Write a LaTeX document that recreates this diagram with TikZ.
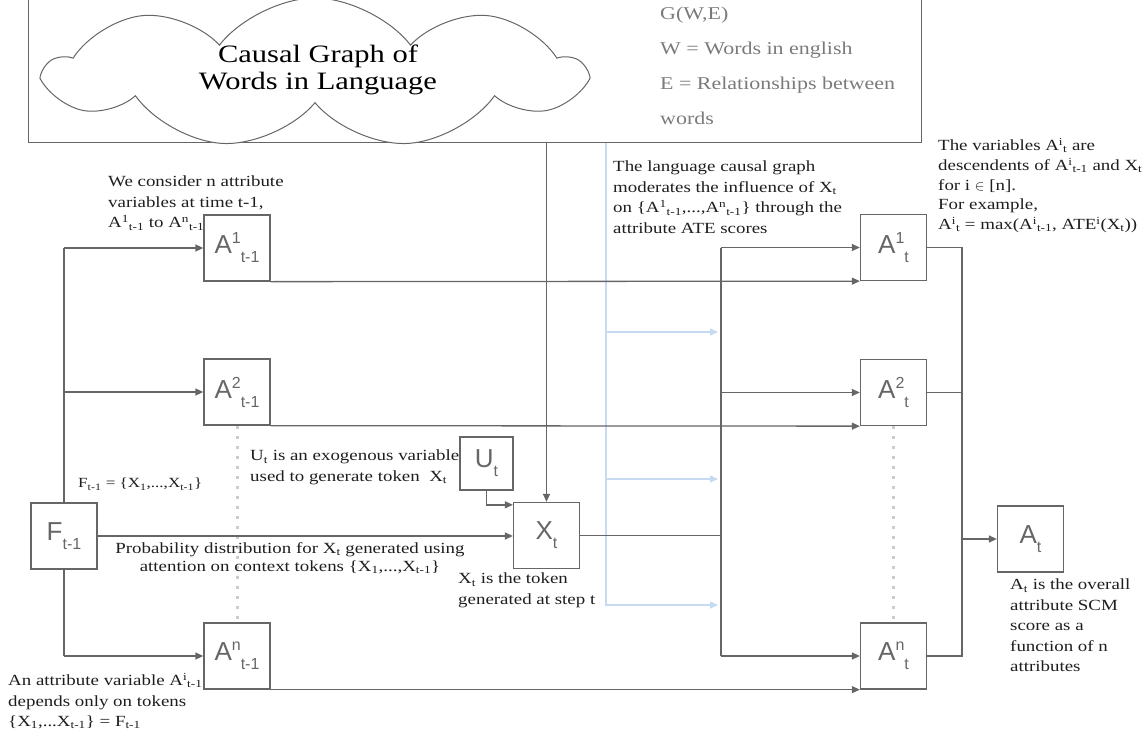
\documentclass[tikz,border=0pt]{standalone}
\usepackage{fontspec}
\setmainfont{Liberation Serif}[FakeStretch=1.22]
\newfontfamily\labfont{Liberation Sans}
\usetikzlibrary{arrows.meta,shapes.symbols}

\definecolor{linegray}{HTML}{666666}
\definecolor{dotgray}{HTML}{CCCCCC}
\definecolor{lblue}{HTML}{C6DAF2}
\definecolor{txtgray}{HTML}{7A7A7A}
\definecolor{txt}{HTML}{1E1E1E}

\newcommand{\bxl}[3]{{\labfont\fontsize{26}{26}\selectfont #1\raisebox{10pt}{\fontsize{16}{16}\selectfont #2}\raisebox{-9pt}{\fontsize{16}{16}\selectfont #3}}}
\newcommand{\tsp}[1]{\textsuperscript{#1}}
\newcommand{\tsb}[1]{\textsubscript{#1}}

\begin{document}
\begin{tikzpicture}[x=1pt,y=-1pt,
  box/.style={draw=linegray, line width=1.3pt, minimum width=66pt, minimum height=66pt, inner sep=0pt, text=linegray},
  wire/.style={draw=linegray, line width=1.3pt},
  arr/.style={wire, -{Triangle[length=8pt,width=7pt]}},
  blu/.style={draw=lblue, line width=1.5pt},
  barr/.style={blu, -{Triangle[length=8pt,width=7pt]}},
  dots/.style={draw=dotgray, line width=3pt, dash pattern=on 3pt off 7pt},
  note/.style={text=txt, font=\fontsize{15.5}{20.5}\selectfont, align=left, inner sep=0pt}
]
\useasboundingbox (0,0) rectangle (1144,736);

% top box and cloud
\node[draw=linegray, line width=1.3pt, minimum width=893pt, minimum height=170pt, anchor=south west, inner sep=0pt] (topbox) at (28,143) {};
\node[cloud, draw=linegray, fill=white, line width=1pt, cloud puffs=9, cloud puff arc=105, cloud ignores aspect, minimum width=535pt, minimum height=150pt, inner sep=0pt] (cloud) at (315,73) {};
\node[align=center, text=black, font=\fontsize{25}{27}\selectfont, inner sep=0pt] (ctitle) at (318,70) {Causal Graph of\\Words in Language};
\node[anchor=north west, text=txtgray, font=\fontsize{18}{35}\selectfont, align=left, inner sep=0pt] (gtxt) at (660,7) {G(W,E)\\W = Words in english\\E = Relationships between\\words};

% boxes
\node[box] (F) at (64,536) {\bxl{F}{}{t-1}};
\node[box] (A1p) at (237,248) {\bxl{A}{1}{t-1}};
\node[box] (A2p) at (237,392) {\bxl{A}{2}{t-1}};
\node[box] (Anp) at (237,656) {\bxl{A}{n}{t-1}};
\node[box] (X) at (546.5,535.5) {\bxl{X}{}{t}};
\node[box, minimum width=53pt, minimum height=53pt] (U) at (486.5,463.5) {\bxl{U}{}{t}};
\node[box] (A1) at (893.5,247.5) {\bxl{A}{1}{t}};
\node[box] (A2) at (893.5,392.5) {\bxl{A}{2}{t}};
\node[box] (An) at (893.5,656) {\bxl{A}{n}{t}};
\node[box] (At) at (1030.5,539) {\bxl{A}{}{t}};

% coordinates
\coordinate (l1) at (64,248);
\coordinate (l2) at (64,392);
\coordinate (ln) at (64,656);
\coordinate (c1) at (721,247.5);
\coordinate (c2) at (721,392.5);
\coordinate (cn) at (721,656);
\coordinate (cx) at (721,535.5);
\coordinate (r1) at (962,247.5);
\coordinate (rn) at (962,656);
\coordinate (ra) at (962,539);
\coordinate (b0) at (606,143);
\coordinate (b1) at (606,332);
\coordinate (b2) at (606,479);
\coordinate (b3) at (606,605);
\coordinate (e1) at (718,332);
\coordinate (e2) at (718,479);
\coordinate (e3) at (718,605);
\path (X.north west) ++(0,3) coordinate (uin);

% dotted
\draw[dots] (A2p.south) -- (Anp.north);
\draw[dots] (A2.south) -- (An.north);

% blue
\draw[barr] (b0) -- (b3) -- (e3);
\draw[barr] (b1) -- (e1);
\draw[barr] (b2) -- (e2);

% left connectors
\draw[wire] (F.north) -- (l1);
\draw[arr] (l1) -- (A1p.west);
\draw[arr] (l2) -- (A2p.west);
\draw[wire] (F.south) -- (ln);
\draw[arr] (ln) -- (Anp.west);
\draw[arr] (F.east) -- (F.east -| X.west);
\draw[arr] (X.north |- topbox.south) -- (X.north);
\draw[arr] (U.south) |- (uin);

% rows
\draw[arr] (A1p.south east) -- (A1.south west);
\draw[arr] (A2p.south east) -- (A2.south west);
\draw[arr] (Anp.south east) -- (An.south west);

% collector
\draw[wire] (X.east) -- (cx);
\draw[wire] (c1) -- (cn);
\draw[arr] (c1) -- (A1.west);
\draw[arr] (c2) -- (A2.west);
\draw[arr] (cn) -- (An.west);

% right
\draw[wire] (A1.east) -- (r1) -- (rn) -- (An.east);
\draw[wire] (A2.east) -- (A2.east -| r1);
\draw[arr] (ra) -- (At.west);

% notes
\node[note, anchor=north west] (t1) at (108,176) {We consider n attribute\\variables at time t-1,\\A\tsp{1}\tsb{t-1} to A\tsp{n}\tsb{t-1}};
\node[note, anchor=north west, font=\fontsize{14}{16}\selectfont] (t2) at (78,478) {F\tsb{t-1} = \{X\tsb{1},...,X\tsb{t-1}\}};
\node[note, anchor=north west] (t3) at (250,450) {U\tsb{t} is an exogenous variable\\used to generate token\ \ X\tsb{t}};
\node[note, anchor=north, align=center, font=\fontsize{15.5}{18.5}\selectfont] (t4) at (290,542) {Probability distribution for X\tsb{t} generated using\\attention on context tokens \{X\tsb{1},...,X\tsb{t-1}\}};
\node[note, anchor=north west] (t5) at (458,573) {X\tsb{t} is the token\\generated at step t};
\node[note, anchor=north west] (t6) at (8,673) {An attribute variable A\tsp{i}\tsb{t-1}\\depends only on tokens\\\{X\tsb{1},...X\tsb{t-1}\} = F\tsb{t-1}};
\node[note, anchor=north west] (t7) at (613,161) {The language causal graph\\moderates the influence of X\tsb{t}\\on \{A\tsp{1}\tsb{t-1},...,A\tsp{n}\tsb{t-1}\} through the\\attribute ATE scores};
\node[note, anchor=north west, font=\fontsize{15.5}{19.7}\selectfont] (t8) at (938,138) {The variables A\tsp{i}\tsb{t} are\\descendents of A\tsp{i}\tsb{t-1} and X\tsb{t}\\for i $\in$ [n].\\For example,\\A\tsp{i}\tsb{t} = max(A\tsp{i}\tsb{t-1}, ATE\tsp{i}(X\tsb{t}))};
\node[note, anchor=north west] (t9) at (1010,579) {A\tsb{t} is the overall\\attribute SCM\\score as a\\function of n\\attributes};
\end{tikzpicture}
\end{document}
